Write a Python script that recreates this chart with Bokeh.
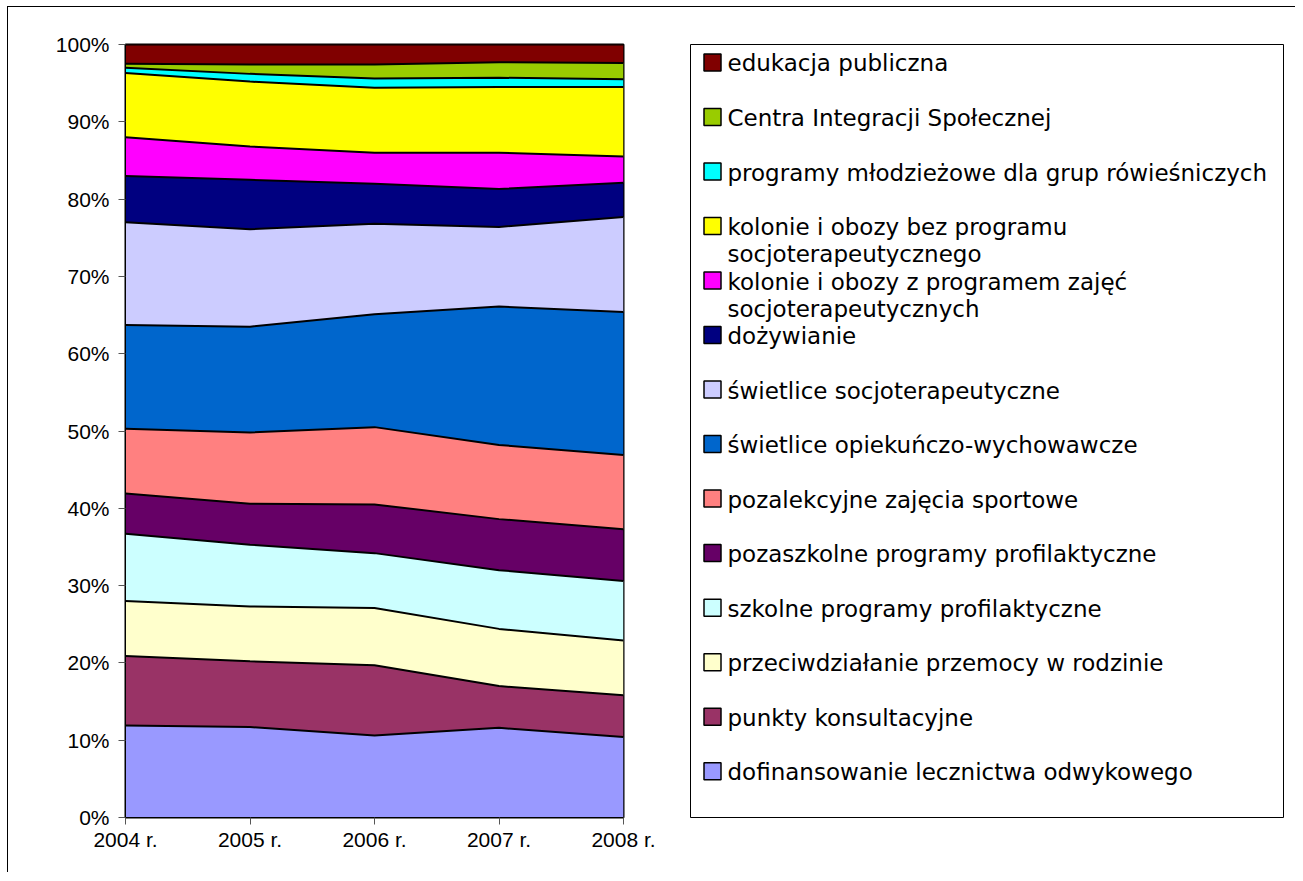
from bokeh.plotting import figure
from bokeh.models import Range1d, FixedTicker, ColumnDataSource, NumeralTickFormatter
from bokeh.layouts import row
from bokeh.embed import file_html
from bokeh.resources import INLINE
from bokeh.core.properties import value

years = ["2004 r.", "2005 r.", "2006 r.", "2007 r.", "2008 r."]

# shares (%) per year, listed from the bottom of the stack to the top
dofinansowanie = [11.9, 11.7, 10.6, 11.6, 10.4]
punkty = [9.0, 8.5, 9.1, 5.4, 5.4]
przemoc = [7.1, 7.1, 7.4, 7.4, 7.1]
szkolne = [8.7, 8.0, 7.1, 7.6, 7.7]
pozaszkolne = [5.2, 5.3, 6.3, 6.6, 6.7]
sportowe = [8.4, 9.2, 10.0, 9.6, 9.6]
opiekuncze = [13.4, 13.7, 14.6, 17.9, 18.5]
socjoter = [13.3, 12.6, 11.7, 10.3, 12.3]
dozywianie = [6.0, 6.4, 5.2, 4.9, 4.4]
kolonie_z = [5.0, 4.3, 4.0, 4.7, 3.4]
kolonie_bez = [8.3, 8.4, 8.4, 8.5, 9.0]
mlodziezowe = [0.7, 1.0, 1.2, 1.2, 1.0]
cis = [0.5, 1.2, 1.8, 2.0, 2.1]
edukacja = [2.5, 2.6, 2.6, 2.3, 2.4]

series_names = [
    "dofinansowanie lecznictwa odwykowego",
    "punkty konsultacyjne",
    "przeciwdziałanie przemocy w rodzinie",
    "szkolne programy profilaktyczne",
    "pozaszkolne programy  profilaktyczne",
    "pozalekcyjne zajęcia sportowe",
    "świetlice opiekuńczo-wychowawcze",
    "świetlice socjoterapeutyczne",
    "dożywianie",
    "kolonie i obozy z programem zajęć\nsocjoterapeutycznych",
    "kolonie i obozy bez programu\nsocjoterapeutycznego",
    "programy młodzieżowe dla grup rówieśniczych",
    "Centra Integracji Społecznej",
    "edukacja publiczna",
]
series_values = [dofinansowanie, punkty, przemoc, szkolne, pozaszkolne, sportowe,
                 opiekuncze, socjoter, dozywianie, kolonie_z, kolonie_bez,
                 mlodziezowe, cis, edukacja]
series_colors = ["#9999FF", "#993366", "#FFFFCC", "#CCFFFF", "#660066", "#FF8080",
                 "#0066CC", "#CCCCFF", "#000080", "#FF00FF", "#FFFF00",
                 "#00FFFF", "#99CC00", "#800000"]

# ---- 100% stacked data
n = len(years)
totals = [sum(v[i] for v in series_values) for i in range(n)]
data = {"x": list(range(n))}
keys = []
for k, vals in enumerate(series_values):
    key = f"s{k}"
    keys.append(key)
    data[key] = [vals[i] / totals[i] for i in range(n)]
src = ColumnDataSource(data)

FONT = "Liberation Sans"

p = figure(width=652, height=865, x_range=Range1d(0, n - 1), y_range=Range1d(0, 1),
           toolbar_location=None, output_backend="svg",
           min_border_left=117, min_border_right=37, min_border_top=37, min_border_bottom=55)
p.grid.visible = False
p.background_fill_color = "white"
p.border_fill_color = "white"
p.outline_line_color = "black"
p.outline_line_width = 2

p.varea_stack(keys, x="x", color=series_colors, source=src)
p.vline_stack(keys, x="x", source=src, line_color="black", line_width=2)

p.yaxis.ticker = FixedTicker(ticks=[i / 10 for i in range(11)])
p.yaxis.formatter = NumeralTickFormatter(format="0%")
p.xaxis.ticker = FixedTicker(ticks=list(range(n)))
p.xaxis.major_label_overrides = {i: y for i, y in enumerate(years)}
for ax in (p.xaxis[0], p.yaxis[0]):
    ax.axis_line_color = "black"
    ax.axis_line_width = 1
    ax.major_tick_in = 0
    ax.major_tick_out = 7
    ax.major_tick_line_color = "#555555"
    ax.minor_tick_line_color = None
    ax.major_label_text_font = FONT
    ax.major_label_text_font_size = "21px"
    ax.major_label_text_color = "black"
p.yaxis.major_label_standoff = 9
p.xaxis.major_label_standoff = 3

# ---- legend panel
LW, LH = 593, 814
L = figure(width=635, height=865, x_range=Range1d(0, LW), y_range=Range1d(LH, 0),
           x_axis_type=None, y_axis_type=None, toolbar_location=None, output_backend="svg",
           min_border_left=30, min_border_right=12, min_border_top=37, min_border_bottom=14)
L.grid.visible = False
L.outline_line_color = "black"
L.outline_line_width = 1
L.background_fill_color = "white"
L.border_fill_color = "white"

first_y, step, line_step = 19, 57.4, 28.7
order = list(range(len(series_names)))[::-1]
mx, my, mc = [], [], []
tx, ty, tt = [], [], []
for k, idx in enumerate(order):
    y0 = first_y + step * k
    mx.append(22)
    my.append(y0)
    mc.append(series_colors[idx])
    for j, line in enumerate(series_names[idx].split("\n")):
        tx.append(37)
        ty.append(y0 + 1 + line_step * j)
        tt.append(line)

L.scatter(x=mx, y=my, marker="square", size=17, fill_color=mc,
          line_color="black", line_width=1.5)
L.text(x=tx, y=ty, text=tt, text_baseline="middle", text_align="left",
       text_font=value("DejaVu Sans"), text_font_size="23px", text_color="black")

layout = row(p, L, styles={"border-left": "1px solid black", "border-top": "1px solid black",
                           "margin-left": "7px", "margin-top": "6px"})

open("out.html", "w").write(file_html(layout, INLINE))
